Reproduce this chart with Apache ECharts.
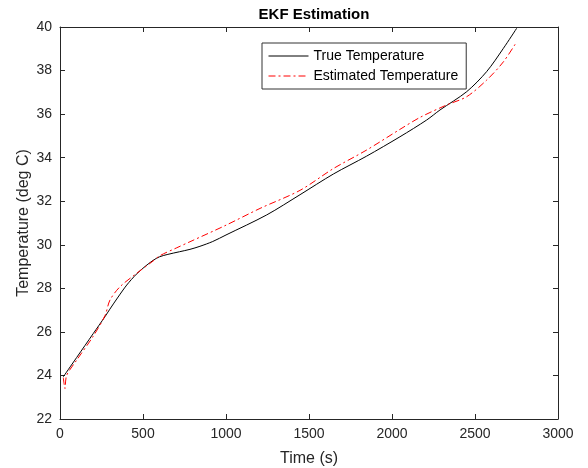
<!DOCTYPE html>
<html>
<head>
<meta charset="utf-8">
<script src="https://cdn.jsdelivr.net/npm/echarts@6/dist/echarts.min.js"></script>
<style>
  html, body { margin: 0; padding: 0; background: #fff; }
  #chart { width: 588px; height: 468px; }
</style>
</head>
<body>
<div id="chart"></div>
<script>
// values
var trueTime = [20, 100, 200, 271, 300, 350, 402, 460, 512, 560, 600, 650, 720, 783, 843, 920, 1000, 1245, 1446, 1647, 1847, 2048, 2209, 2289, 2450, 2570, 2671, 2751];
var trueTemp = [23.94, 24.82, 25.92, 26.7, 27.04, 27.6, 28.15, 28.65, 29.0, 29.28, 29.45, 29.56, 29.68, 29.79, 29.93, 30.15, 30.45, 31.37, 32.3, 33.25, 34.07, 34.96, 35.73, 36.19, 37.03, 37.95, 39.02, 39.94];

var estTime = [20, 30, 40, 100, 200, 271, 301, 361, 462, 560, 602, 700, 783, 1000, 1205, 1446, 1647, 1847, 2048, 2169, 2329, 2450, 2570, 2671, 2751];
var estTemp = [23.9, 23.4, 24.0, 24.7, 25.8, 26.75, 27.46, 28.07, 28.69, 29.25, 29.5, 29.85, 30.14, 30.9, 31.67, 32.5, 33.5, 34.35, 35.3, 35.85, 36.42, 36.8, 37.56, 38.4, 39.32];

var xTicks = [0, 500, 1000, 1500, 2000, 2500, 3000];
var yTicks = [22, 24, 26, 28, 30, 32, 34, 36, 38, 40];

function pairs(xs, ys) {
  return xs.map(function (x, i) { return [x, ys[i]]; });
}

var chart = echarts.init(document.getElementById('chart'), null, { renderer: 'canvas' });

var axisColor = '#262626';
var font = 'Liberation Sans, Arial, sans-serif';

function baseAxis(extra) {
  var a = {
    type: 'value',
    axisLine: { show: true, onZero: false, lineStyle: { color: axisColor, width: 1 } },
    axisTick: { show: true, inside: true, length: 5, lineStyle: { color: axisColor } },
    splitLine: { show: false },
    axisLabel: { color: axisColor, fontSize: 14, fontFamily: font }
  };
  for (var k in extra) a[k] = extra[k];
  return a;
}

function plain(v) { return String(v); }

var option = {
  backgroundColor: '#fff',
  animation: false,
  title: {
    text: 'EKF Estimation',
    left: 309,
    textAlign: 'center',
    top: 2,
    textStyle: { fontSize: 15, fontWeight: 'bold', color: '#000', fontFamily: font }
  },
  legend: {
    orient: 'vertical',
    left: 262,
    top: 43,
    width: 204,
    padding: [6, 8, 6, 6],
    itemGap: 6,
    itemWidth: 40,
    itemHeight: 12,
    borderColor: '#333',
    borderWidth: 1,
    backgroundColor: '#fff',
    itemStyle: { opacity: 0 },
    lineStyle: { width: 1 },
    textStyle: { fontSize: 14, color: '#000', fontFamily: font },
    data: ['True Temperature', 'Estimated Temperature']
  },
  grid: { left: 60, right: 30, top: 27, bottom: 49, containLabel: false, outerBoundsMode: 'none' },
  xAxis: [
    baseAxis({
      min: 0, max: 3000, interval: 500,
      name: 'Time (s)', nameLocation: 'middle', nameGap: 32, nameMoveOverlap: false,
      nameTextStyle: { fontSize: 16, color: axisColor, fontFamily: font },
      axisLabel: { color: axisColor, fontSize: 14, fontFamily: font, margin: 8, formatter: plain }
    }),
    baseAxis({
      min: 0, max: 3000, interval: 500, position: 'top',
      axisLabel: { show: false }
    })
  ],
  yAxis: [
    baseAxis({
      min: 22, max: 40, interval: 2,
      name: 'Temperature (deg C)', nameLocation: 'middle', nameGap: 28, nameMoveOverlap: false,
      nameTextStyle: { fontSize: 16, color: axisColor, fontFamily: font },
      axisLabel: { color: axisColor, fontSize: 14, fontFamily: font, margin: 8, formatter: plain }
    }),
    baseAxis({
      min: 22, max: 40, interval: 2, position: 'right',
      axisLabel: { show: false }
    })
  ],
  series: [
    {
      name: 'True Temperature',
      type: 'line',
      symbol: 'none',
      smooth: 0.3,
      clip: true,
      lineStyle: { color: '#000', width: 1 },
      itemStyle: { color: '#000' },
      data: pairs(trueTime, trueTemp)
    },
    {
      name: 'Estimated Temperature',
      type: 'line',
      symbol: 'none',
      smooth: 0.3,
      clip: true,
      lineStyle: { color: '#ff0000', width: 1, type: [7, 3, 2, 3] },
      itemStyle: { color: '#ff0000' },
      data: pairs(estTime, estTemp)
    }
  ]
};

chart.setOption(option);
</script>
</body>
</html>
